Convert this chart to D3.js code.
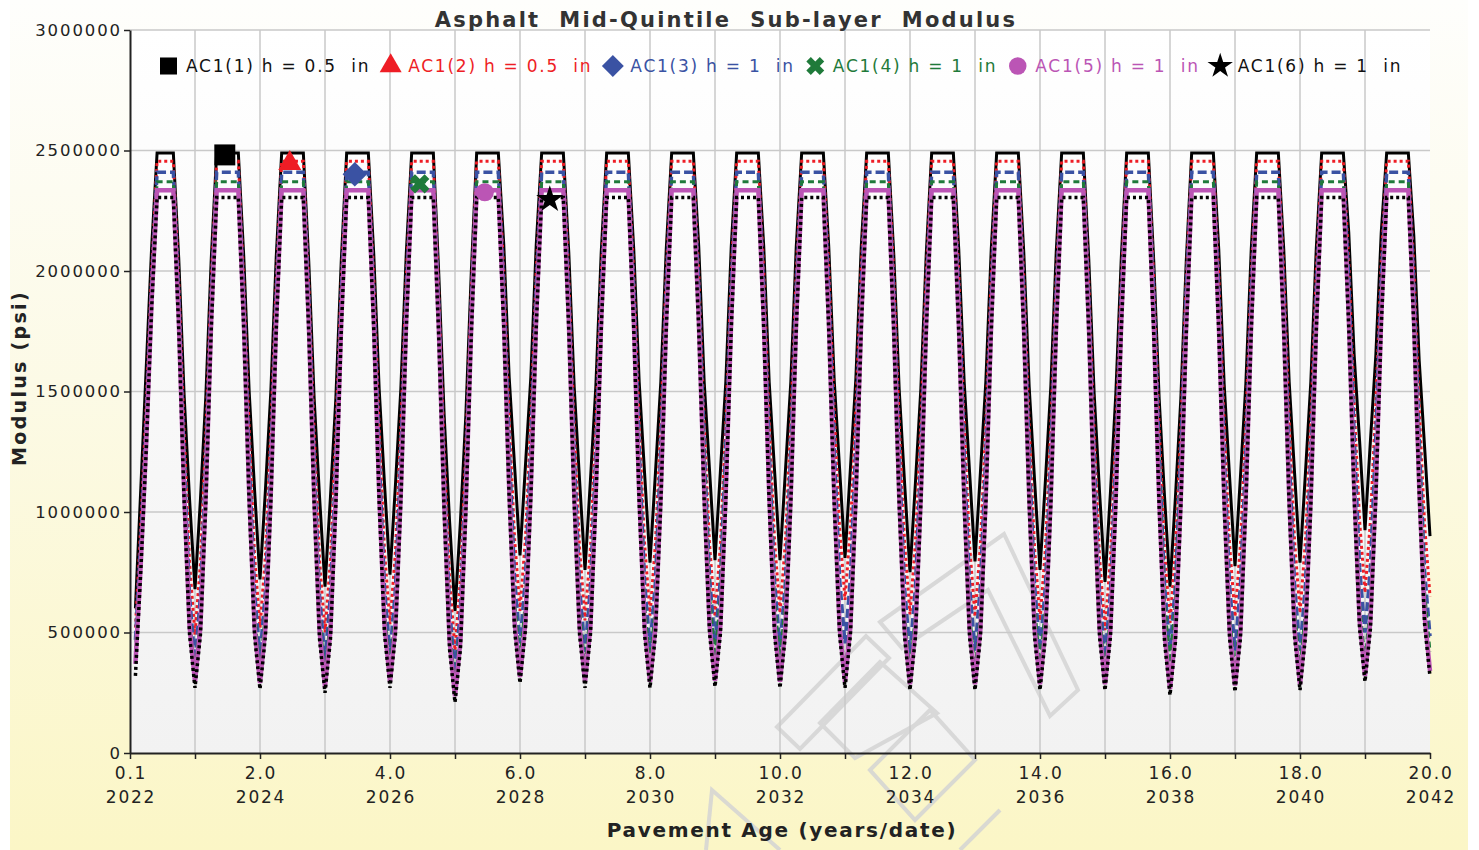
<!DOCTYPE html>
<html>
<head>
<meta charset="utf-8">
<script src="https://cdn.jsdelivr.net/npm/d3@7"></script>
<style>
  body { margin: 0; background: #ffffff; }
  svg { display: block; }
  text { font-family: "DejaVu Sans", Verdana, sans-serif; white-space: pre; }
</style>
</head>
<body>
<svg id="chart" width="1479" height="850"></svg>
<script>
// ---- Data: monthly sub-layer modulus, in ksi (1 ksi = 1000 psi) ----
// Each row holds one year of monthly values (months 1..12 of that year).
const seriesLabels = ["AC1(1) h = 0.5  in", "AC1(2) h = 0.5  in", "AC1(3) h = 1  in",
                      "AC1(4) h = 1  in", "AC1(5) h = 1  in", "AC1(6) h = 1  in"];

const ac1_1 = [
  [600,1100,1600,2100,2490,2490,2490,2490,2050,1480,1050,680],
  [1050,1480,2050,2490,2490,2490,2490,2490,2060,1500,1090,720],
  [1090,1500,2060,2490,2490,2490,2490,2490,2040,1470,1060,690],
  [1060,1470,2040,2490,2490,2490,2490,2490,2070,1510,1110,740],
  [1110,1510,2070,2490,2490,2490,2490,2490,1990,1400,960,590],
  [960,1400,1990,2490,2490,2490,2490,2490,2110,1560,1190,820],
  [1190,1560,2110,2490,2490,2490,2490,2490,2080,1520,1130,760],
  [1130,1520,2080,2490,2490,2490,2490,2490,2090,1540,1160,790],
  [1160,1540,2090,2490,2490,2490,2490,2490,2100,1540,1170,800],
  [1170,1540,2100,2490,2490,2490,2490,2490,2100,1540,1170,800],
  [1170,1540,2100,2490,2490,2490,2490,2490,2100,1550,1180,810],
  [1180,1550,2100,2490,2490,2490,2490,2490,2070,1510,1120,750],
  [1120,1510,2070,2490,2490,2490,2490,2490,2090,1540,1165,795],
  [1165,1540,2090,2490,2490,2490,2490,2490,2080,1520,1130,760],
  [1130,1520,2080,2490,2490,2490,2490,2490,2050,1490,1080,710],
  [1080,1490,2050,2490,2490,2490,2490,2490,2040,1470,1060,690],
  [1060,1470,2040,2490,2490,2490,2490,2490,2090,1530,1145,775],
  [1145,1530,2090,2490,2490,2490,2490,2490,2090,1540,1160,790],
  [1160,1540,2090,2490,2490,2490,2490,2490,2160,1650,1295,925],
  [1295,1650,2160,2490,2490,2490,2490,2490,2150,1630,1270,900]
].flat();

const ac1_2 = [
  [520,950,1450,2000,2455,2455,2455,2455,1960,1330,790,490],
  [790,1330,1960,2455,2455,2455,2455,2455,1960,1340,820,520],
  [820,1340,1960,2455,2455,2455,2455,2455,1950,1330,800,500],
  [800,1330,1950,2455,2455,2455,2455,2455,1970,1350,835,535],
  [835,1350,1970,2455,2455,2455,2455,2455,1910,1260,725,425],
  [725,1260,1910,2455,2455,2455,2455,2455,2000,1390,890,590],
  [890,1390,2000,2455,2455,2455,2455,2455,1980,1360,850,550],
  [850,1360,1980,2455,2455,2455,2455,2455,1990,1370,870,570],
  [870,1370,1990,2455,2455,2455,2455,2455,1990,1370,865,565],
  [865,1370,1990,2455,2455,2455,2455,2455,2000,1380,880,580],
  [880,1380,2000,2455,2455,2455,2455,2455,2020,1420,935,635],
  [935,1420,2020,2455,2455,2455,2455,2455,1990,1370,875,575],
  [875,1370,1990,2455,2455,2455,2455,2455,1990,1370,865,565],
  [865,1370,1990,2455,2455,2455,2455,2455,1980,1360,850,550],
  [850,1360,1980,2455,2455,2455,2455,2455,1960,1330,810,510],
  [810,1330,1960,2455,2455,2455,2455,2455,1970,1350,840,540],
  [840,1350,1970,2455,2455,2455,2455,2455,1990,1370,865,565],
  [865,1370,1990,2455,2455,2455,2455,2455,2000,1380,880,580],
  [880,1380,2000,2455,2455,2455,2455,2455,2040,1450,965,665],
  [965,1450,2040,2455,2455,2455,2455,2455,2030,1440,950,650]
].flat();

const ac1_3 = [
  [470,880,1380,1950,2410,2410,2410,2410,1900,1220,650,380],
  [650,1220,1900,2410,2410,2410,2410,2410,1900,1230,670,400],
  [670,1230,1900,2410,2410,2410,2410,2410,1900,1220,655,385],
  [655,1220,1900,2410,2410,2410,2410,2410,1910,1240,680,410],
  [680,1240,1910,2410,2410,2410,2410,2410,1860,1160,600,330],
  [600,1160,1860,2410,2410,2410,2410,2410,1940,1280,725,455],
  [725,1280,1940,2410,2410,2410,2410,2410,1920,1250,690,420],
  [690,1250,1920,2410,2410,2410,2410,2410,1930,1270,710,440],
  [710,1270,1930,2410,2410,2410,2410,2410,1940,1280,725,455],
  [725,1280,1940,2410,2410,2410,2410,2410,1930,1270,710,440],
  [710,1270,1930,2410,2410,2410,2410,2410,1940,1280,725,455],
  [725,1280,1940,2410,2410,2410,2410,2410,1910,1240,685,415],
  [685,1240,1910,2410,2410,2410,2410,2410,1920,1250,695,425],
  [695,1250,1920,2410,2410,2410,2410,2410,1920,1250,695,425],
  [695,1250,1920,2410,2410,2410,2410,2410,1900,1230,665,395],
  [665,1230,1900,2410,2410,2410,2410,2410,1920,1250,695,425],
  [695,1250,1920,2410,2410,2410,2410,2410,1920,1250,695,425],
  [695,1250,1920,2410,2410,2410,2410,2410,1920,1250,695,425],
  [695,1250,1920,2410,2410,2410,2410,2410,1970,1320,770,500],
  [770,1320,1970,2410,2410,2410,2410,2410,1960,1310,755,485]
].flat();

const ac1_4 = [
  [420,830,1330,1920,2370,2370,2370,2370,1850,1150,570,320],
  [570,1150,1850,2370,2370,2370,2370,2370,1850,1160,585,335],
  [585,1160,1850,2370,2370,2370,2370,2370,1850,1150,570,320],
  [570,1150,1850,2370,2370,2370,2370,2370,1860,1160,590,340],
  [590,1160,1860,2370,2370,2370,2370,2370,1820,1100,525,275],
  [525,1100,1820,2370,2370,2370,2370,2370,1880,1200,630,380],
  [630,1200,1880,2370,2370,2370,2370,2370,1860,1170,600,350],
  [600,1170,1860,2370,2370,2370,2370,2370,1870,1190,615,365],
  [615,1190,1870,2370,2370,2370,2370,2370,1890,1220,650,400],
  [650,1220,1890,2370,2370,2370,2370,2370,1880,1210,635,385],
  [635,1210,1880,2370,2370,2370,2370,2370,1840,1140,565,315],
  [565,1140,1840,2370,2370,2370,2370,2370,1850,1150,580,330],
  [580,1150,1850,2370,2370,2370,2370,2370,1850,1160,585,335],
  [585,1160,1850,2370,2370,2370,2370,2370,1870,1180,610,360],
  [610,1180,1870,2370,2370,2370,2370,2370,1850,1150,580,330],
  [580,1150,1850,2370,2370,2370,2370,2370,1870,1190,625,375],
  [625,1190,1870,2370,2370,2370,2370,2370,1850,1150,580,330],
  [580,1150,1850,2370,2370,2370,2370,2370,1860,1160,595,345],
  [595,1160,1860,2370,2370,2370,2370,2370,1870,1190,625,375],
  [625,1190,1870,2370,2370,2370,2370,2370,1900,1230,670,420]
].flat();

const ac1_5 = [
  [370,790,1290,1880,2335,2335,2335,2335,1800,1080,525,295],
  [525,1080,1800,2335,2335,2335,2335,2335,1800,1080,520,290],
  [520,1080,1800,2335,2335,2335,2335,2335,1790,1070,505,275],
  [505,1070,1790,2335,2335,2335,2335,2335,1800,1080,525,295],
  [525,1080,1800,2335,2335,2335,2335,2335,1770,1040,465,235],
  [465,1040,1770,2335,2335,2335,2335,2335,1810,1100,545,315],
  [545,1100,1810,2335,2335,2335,2335,2335,1800,1080,525,295],
  [525,1080,1800,2335,2335,2335,2335,2335,1800,1080,525,295],
  [525,1080,1800,2335,2335,2335,2335,2335,1800,1090,530,300],
  [530,1090,1800,2335,2335,2335,2335,2335,1800,1080,525,295],
  [525,1080,1800,2335,2335,2335,2335,2335,1800,1080,525,295],
  [525,1080,1800,2335,2335,2335,2335,2335,1790,1070,515,285],
  [515,1070,1790,2335,2335,2335,2335,2335,1790,1070,515,285],
  [515,1070,1790,2335,2335,2335,2335,2335,1790,1070,515,285],
  [515,1070,1790,2335,2335,2335,2335,2335,1790,1070,515,285],
  [515,1070,1790,2335,2335,2335,2335,2335,1780,1060,495,265],
  [495,1060,1780,2335,2335,2335,2335,2335,1790,1070,510,280],
  [510,1070,1790,2335,2335,2335,2335,2335,1790,1070,515,285],
  [515,1070,1790,2335,2335,2335,2335,2335,1810,1100,550,320],
  [550,1100,1810,2335,2335,2335,2335,2335,1820,1110,570,340]
].flat();

const ac1_6 = [
  [320,760,1260,1850,2305,2305,2305,2305,1760,1040,490,270],
  [490,1040,1760,2305,2305,2305,2305,2305,1760,1040,485,265],
  [485,1040,1760,2305,2305,2305,2305,2305,1750,1030,470,250],
  [470,1030,1750,2305,2305,2305,2305,2305,1760,1040,490,270],
  [490,1040,1760,2305,2305,2305,2305,2305,1730,1000,430,210],
  [430,1000,1730,2305,2305,2305,2305,2305,1770,1060,510,290],
  [510,1060,1770,2305,2305,2305,2305,2305,1760,1040,490,270],
  [490,1040,1760,2305,2305,2305,2305,2305,1760,1040,490,270],
  [490,1040,1760,2305,2305,2305,2305,2305,1760,1050,495,275],
  [495,1050,1760,2305,2305,2305,2305,2305,1760,1040,490,270],
  [490,1040,1760,2305,2305,2305,2305,2305,1760,1040,490,270],
  [490,1040,1760,2305,2305,2305,2305,2305,1750,1030,480,261],
  [480,1030,1750,2305,2305,2305,2305,2305,1750,1030,480,261],
  [480,1030,1750,2305,2305,2305,2305,2305,1750,1030,480,261],
  [480,1030,1750,2305,2305,2305,2305,2305,1750,1030,480,260],
  [480,1030,1750,2305,2305,2305,2305,2305,1740,1020,460,240],
  [460,1020,1740,2305,2305,2305,2305,2305,1750,1030,475,254],
  [475,1030,1750,2305,2305,2305,2305,2305,1750,1030,480,261],
  [480,1030,1750,2305,2305,2305,2305,2305,1770,1060,515,296],
  [515,1060,1770,2305,2305,2305,2305,2305,1780,1080,535,317]
].flat();

// Month (counted from opening) at which each series carries its marker
const markerMonths = [17.5, 29.5, 41.5, 53.5, 65.5, 77.5];

const yTickValues = [0, 500000, 1000000, 1500000, 2000000, 2500000, 3000000];
const xAgeTicks = [0, 2, 4, 6, 8, 10, 12, 14, 16, 18, 20];
const xAgeLabels = ["0.1", "2.0", "4.0", "6.0", "8.0", "10.0", "12.0", "14.0", "16.0", "18.0", "20.0"];
const xYearLabels = ["2022", "2024", "2026", "2028", "2030", "2032", "2034", "2036", "2038", "2040", "2042"];

// ---- Styling ----
const diamond = { draw(ctx, size) { const r = Math.sqrt(size / 2); ctx.moveTo(0, -r); ctx.lineTo(r, 0); ctx.lineTo(0, r); ctx.lineTo(-r, 0); ctx.closePath(); } };
const seriesValues = [ac1_1, ac1_2, ac1_3, ac1_4, ac1_5, ac1_6];
const styles = [
  { color: "#000000", text: "#111111", width: 3,   dash: null,  symbol: d3.symbolSquare,   size: 440, legendSize: 290 },
  { color: "#ee1d25", text: "#ee1d25", width: 3,   dash: "3,3", symbol: d3.symbolTriangle, size: 230, legendSize: 210 },
  { color: "#3a52a3", text: "#3a52a3", width: 3.5, dash: "9,4", symbol: diamond,           size: 300, legendSize: 240 },
  { color: "#1f7a3a", text: "#1f7a3a", width: 3,   dash: "6,4", symbol: d3.symbolCross,    size: 230, legendSize: 200 },
  { color: "#bb55b5", text: "#bb55b5", width: 4.5, dash: null,  symbol: d3.symbolCircle,   size: 260, legendSize: 240 },
  { color: "#000000", text: "#111111", width: 3.5, dash: "3,3", symbol: d3.symbolStar,     size: 230, legendSize: 200 }
];

const svg = d3.select("#chart");
const plot = { left: 130, right: 1430, top: 30, bottom: 753 };

const x = d3.scaleLinear().domain([0, 20]).range([plot.left, plot.right]);
const y = d3.scaleLinear().domain([0, 3000000]).range([plot.bottom, plot.top]);

// ---- Backgrounds ----
const defs = svg.append("defs");
const outerGrad = defs.append("linearGradient").attr("id", "outerBg").attr("x1", 0).attr("y1", 0).attr("x2", 0).attr("y2", 1);
outerGrad.append("stop").attr("offset", "0%").attr("stop-color", "#fefefc");
outerGrad.append("stop").attr("offset", "45%").attr("stop-color", "#fcfae6");
outerGrad.append("stop").attr("offset", "100%").attr("stop-color", "#fbf6c6");
const plotGrad = defs.append("linearGradient").attr("id", "plotBg").attr("x1", 0).attr("y1", 0).attr("x2", 0).attr("y2", 1);
plotGrad.append("stop").attr("offset", "0%").attr("stop-color", "#ffffff");
plotGrad.append("stop").attr("offset", "100%").attr("stop-color", "#f2f2f2");

svg.append("rect").attr("x", 0).attr("y", 0).attr("width", 1479).attr("height", 850).attr("fill", "#ffffff");
svg.append("rect").attr("x", 10).attr("y", 0).attr("width", 1458).attr("height", 850).attr("fill", "url(#outerBg)");
svg.append("rect").attr("x", plot.left).attr("y", plot.top)
  .attr("width", plot.right - plot.left).attr("height", plot.bottom - plot.top)
  .attr("fill", "url(#plotBg)");

// ---- Faint stamp outline drawn behind the data ----
const stamp = svg.append("g").attr("fill", "none").attr("stroke", "#d4d4d4").attr("stroke-width", 4).attr("opacity", 0.85);
const stampShapes = [
  [[777, 727], [866, 636], [889, 658], [800, 749]],
  [[820, 723], [880, 662], [937, 713], [855, 758]],
  [[880, 622], [1004, 534], [1078, 690], [1050, 716], [988, 590], [902, 648]],
  [[706, 850], [712, 790], [780, 850]],
  [[870, 770], [930, 710], [975, 760], [915, 820]],
  [[960, 850], [1000, 810]]
];
stampShapes.forEach(pts => stamp.append("path").attr("d", d3.line()(pts) + (pts.length > 3 ? "Z" : "")));

// ---- Grid ----
const grid = svg.append("g").attr("stroke", "#c9c9c9").attr("stroke-width", 1.5);
yTickValues.filter(v => v > 0).forEach(v => {
  grid.append("line").attr("x1", plot.left).attr("x2", plot.right).attr("y1", y(v)).attr("y2", y(v));
});
d3.range(1, 20).forEach(t => {
  grid.append("line").attr("x1", x(t)).attr("x2", x(t)).attr("y1", plot.top).attr("y2", plot.bottom);
});

// ---- Series lines ----
const line = d3.line()
  .x((d, i) => x((i + 1) / 12))
  .y(d => y(d * 1000));

seriesValues.forEach((vals, s) => {
  const st = styles[s];
  svg.append("path")
    .attr("d", line(vals))
    .attr("fill", "none")
    .attr("stroke", st.color)
    .attr("stroke-width", st.width)
    .attr("stroke-linejoin", "miter")
    .attr("stroke-dasharray", st.dash);
});

// ---- Markers on the lines ----
const rot = st => (st.symbol === d3.symbolCross ? " rotate(45)" : "");
seriesValues.forEach((vals, s) => {
  const st = styles[s];
  const m = markerMonths[s];
  const v = vals[Math.floor(m) - 1] * 1000;
  svg.append("path")
    .attr("d", d3.symbol().type(st.symbol).size(st.size)())
    .attr("transform", `translate(${x(m / 12)},${y(v) + 2})${rot(st)}`)
    .attr("fill", st.color);
});

// ---- Axes ----
const yAxis = d3.axisLeft(y).tickValues(yTickValues).tickSize(6).tickSizeOuter(0).tickFormat(d3.format("d"));
const gy = svg.append("g").attr("transform", `translate(${plot.left},0)`).call(yAxis);
gy.select(".domain").attr("stroke", "#222").attr("stroke-width", 2);
gy.selectAll(".tick line").attr("stroke", "#222").attr("stroke-width", 1.5);
gy.selectAll(".tick text")
  .attr("x", -8).attr("font-size", 16.5).attr("letter-spacing", "1.9px")
  .attr("fill", "#222").attr("font-family", "DejaVu Sans, Verdana, sans-serif");

const xAxis = d3.axisBottom(x).tickValues(d3.range(0, 21)).tickSize(6).tickSizeOuter(0).tickFormat("");
const gx = svg.append("g").attr("transform", `translate(0,${plot.bottom})`).call(xAxis);
gx.select(".domain").attr("stroke", "#222").attr("stroke-width", 2);
gx.selectAll(".tick line").attr("stroke", "#222").attr("stroke-width", 1.5);

const xl = svg.append("g").attr("font-size", 17).attr("fill", "#222").attr("text-anchor", "middle").attr("letter-spacing", "1.8px");
xAgeTicks.forEach((t, i) => {
  xl.append("text").attr("x", x(t) + 1).attr("y", 779).text(xAgeLabels[i]);
  xl.append("text").attr("x", x(t) + 1).attr("y", 803).text(xYearLabels[i]);
});

// ---- Titles ----
svg.append("text").attr("x", 726).attr("y", 27).attr("text-anchor", "middle")
  .attr("font-size", 21).attr("font-weight", "bold").attr("fill", "#333")
  .attr("letter-spacing", "2.2px")
  .text("Asphalt  Mid-Quintile  Sub-layer  Modulus");

svg.append("text").attr("transform", "translate(26,378) rotate(-90)").attr("text-anchor", "middle")
  .attr("font-size", 19).attr("font-weight", "bold").attr("fill", "#222")
  .attr("letter-spacing", "2.3px")
  .text("Modulus (psi)");

svg.append("text").attr("x", 782).attr("y", 837).attr("text-anchor", "middle")
  .attr("font-size", 20).attr("font-weight", "bold").attr("fill", "#222")
  .attr("letter-spacing", "1.7px")
  .text("Pavement Age (years/date)");

// ---- Legend ----
let lx = 160;
const legend = svg.append("g");
seriesLabels.forEach((label, s) => {
  const st = styles[s];
  legend.append("path")
    .attr("d", d3.symbol().type(st.symbol).size(st.legendSize)())
    .attr("transform", `translate(${lx + 8.5},66)${rot(st)}`)
    .attr("fill", st.color);
  const t = legend.append("text").attr("x", lx + 26).attr("y", 72)
    .attr("font-size", 17).attr("fill", st.text)
    .attr("letter-spacing", "1.75px")
    .text(label);
  lx += 26 + t.node().getComputedTextLength() + 12;
});
</script>
</body>
</html>
